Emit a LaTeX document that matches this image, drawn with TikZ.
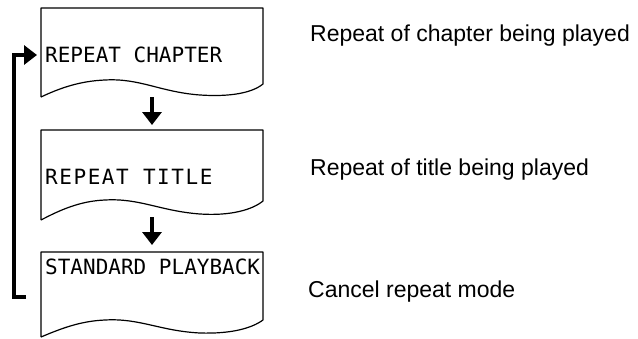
\documentclass[tikz,border=0pt]{standalone}
\usepackage{fontspec}
\usetikzlibrary{arrows.meta}
\newfontfamily\boxfont{DejaVu Sans Mono}
\newfontfamily\boxfontwide{DejaVu Sans Mono}[LetterSpace=7.4]
\newfontfamily\notefont{Liberation Sans}
\tikzset{
  docline/.style={line width=1.2pt, line join=round},
  flow/.style={line width=4pt, -{Triangle[width=19pt,length=13pt]}},
  boxtext/.style={anchor=west, inner sep=0pt, font=\boxfont\fontsize{21}{21}\selectfont},
  boxtextwide/.style={anchor=west, inner sep=0pt, font=\boxfontwide\fontsize{21}{21}\selectfont},
  note/.style={anchor=base west, inner sep=0pt, font=\notefont\fontsize{23}{23}\selectfont}
}
\begin{document}
\begin{tikzpicture}[x=1pt,y=-1pt]
\useasboundingbox (0,0) rectangle (638,338);
% document shapes
\draw[docline] (41,97) -- (41,8) -- (263,8) -- (263,84)
  .. controls (252,93) and (230,97) .. (200,95)
  .. controls (160,92) and (140,78) .. (105,80)
  .. controls (80,81) and (60,88) .. (41,97);
\draw[docline] (41,220) -- (41,130) -- (263,130) -- (263,201)
  .. controls (252,210) and (230,216) .. (200,214)
  .. controls (160,211) and (140,198) .. (105,200)
  .. controls (80,201) and (60,210) .. (41,220);
\draw[docline] (41,337) -- (41,252) -- (263,252) -- (263,320)
  .. controls (252,328) and (232,334) .. (200,333)
  .. controls (160,331) and (140,318) .. (105,320)
  .. controls (80,321) and (60,329) .. (41,337);
% box texts
\node[boxtext] (t1) at (45,55) {REPEAT CHAPTER};
\node[boxtextwide] (t2) at (45,177) {REPEAT TITLE};
\node[boxtext] (t3) at (45,267) {STANDARD PLAYBACK};
% notes
\node[note] (n1) at (310,41) {Repeat of chapter being played};
\node[note] (n2) at (310,175) {Repeat of title being played};
\node[note] (n3) at (308,297) {Cancel repeat mode};
% arrows
\coordinate (d1s) at (152,97);
\coordinate (d1e) at (152,125);
\coordinate (d2s) at (152,217);
\coordinate (d2e) at (152,245);
\draw[flow] (d1s) -- (d1e);
\draw[flow] (d2s) -- (d2e);
\coordinate (lp) at (26,297);
\draw[flow, shorten >=8pt] (lp) -- (14,297) |- (t1.west);
\end{tikzpicture}
\end{document}
